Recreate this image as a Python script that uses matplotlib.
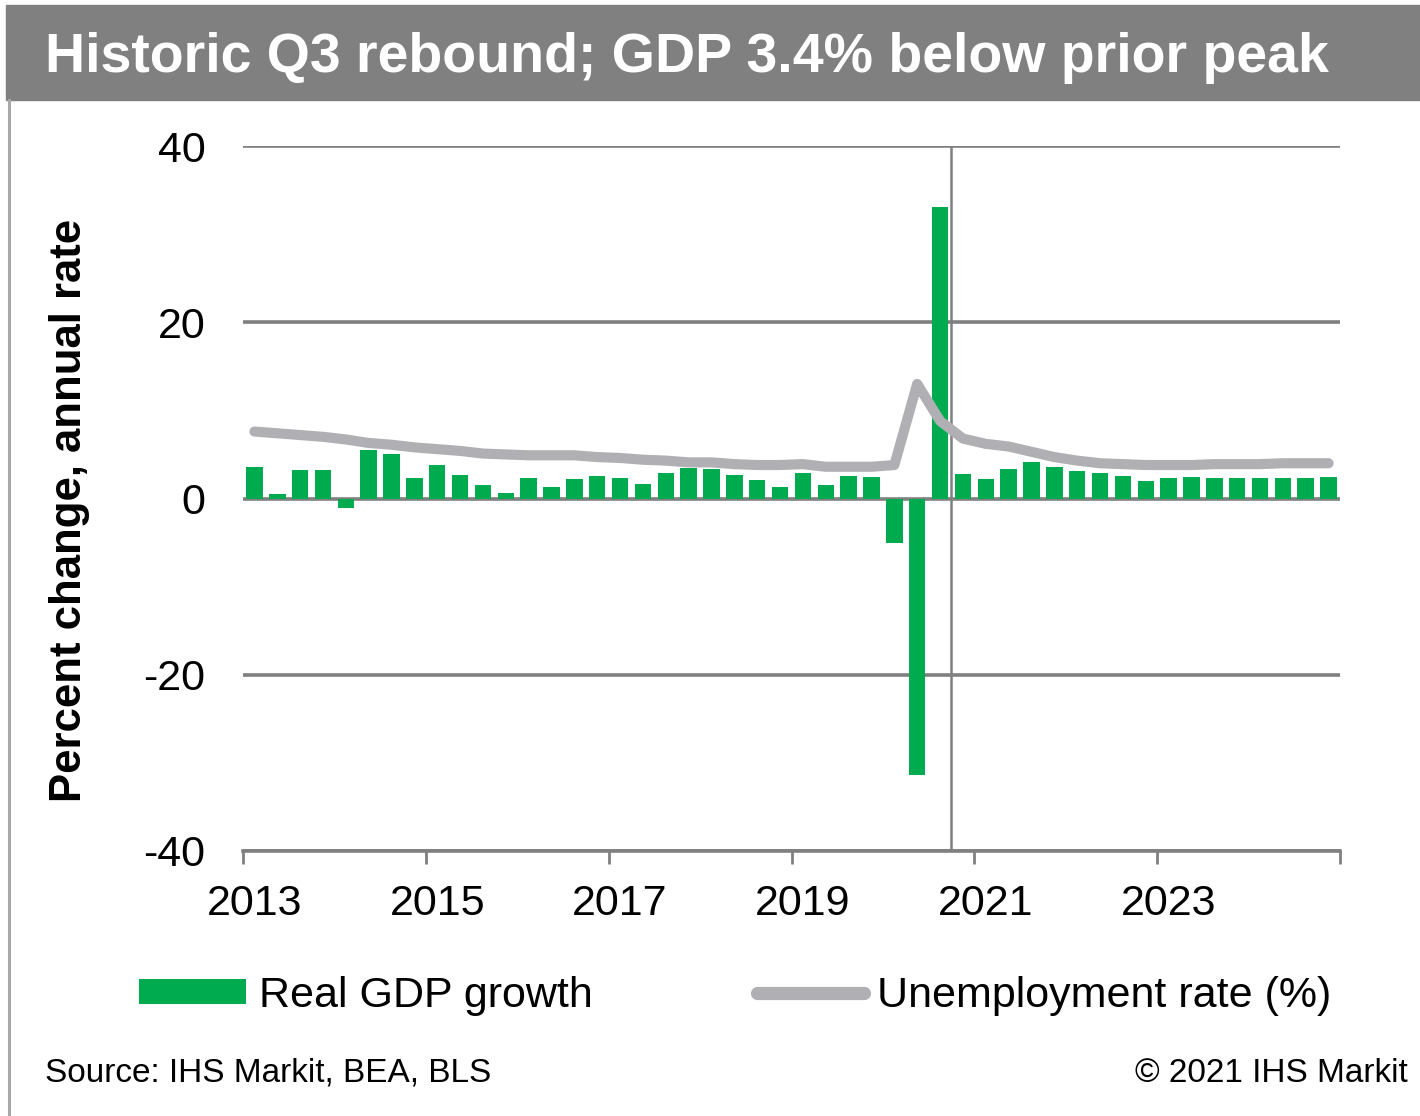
import numpy as np
import matplotlib.pyplot as plt
from matplotlib.patches import Rectangle
from matplotlib.lines import Line2D

plt.rcParams['font.family'] = ['Liberation Sans', 'DejaVu Sans']
plt.rcParams['axes.unicode_minus'] = False

# quarterly series, 2013Q1 .. 2024Q4
years = list(range(2013, 2025))
quarters = ['%dQ%d' % (y, q) for y in years for q in range(1, 5)]

gdp_growth = [3.6, 0.5, 3.2, 3.2,
              -1.1, 5.5, 5.0, 2.3,
              3.8, 2.7, 1.5, 0.6,
              2.3, 1.3, 2.2, 2.5,
              2.3, 1.7, 2.9, 3.5,
              3.3, 2.7, 2.1, 1.3,
              2.9, 1.5, 2.6, 2.4,
              -5.0, -31.4, 33.1, 2.8,
              2.2, 3.3, 4.1, 3.6,
              3.1, 2.9, 2.6, 2.0,
              2.3, 2.4, 2.3, 2.3,
              2.3, 2.3, 2.3, 2.4]

unemployment = [7.6, 7.4, 7.2, 7.0,
                6.7, 6.3, 6.1, 5.8,
                5.6, 5.4, 5.1, 5.0,
                4.9, 4.9, 4.9, 4.7,
                4.6, 4.4, 4.3, 4.1,
                4.1, 3.9, 3.8, 3.8,
                3.9, 3.6, 3.6, 3.6,
                3.8, 13.0, 8.8, 6.8,
                6.2, 5.9, 5.3, 4.7,
                4.3, 4.0, 3.9, 3.8,
                3.8, 3.8, 3.9, 3.9,
                3.9, 4.0, 4.0, 4.0]

last_actual = '2020Q3'
year_labels = ['2013', '2015', '2017', '2019', '2021', '2023']

GREEN = '#00aa4f'
LINE_GRAY = '#b0b0b4'
AXIS_GRAY = '#808080'

W, H = 1420, 1116
fig = plt.figure(figsize=(W / 100, H / 100), dpi=100)

# header band + left border
fig.patches.append(Rectangle((6 / W, 1 - 100 / H), 1 - 6 / W, 95 / H,
                             transform=fig.transFigure, color='#808080', zorder=0))
fig.add_artist(Line2D([9 / W, 9 / W], [0, 1 - 100 / H], transform=fig.transFigure,
                      color='#a8a8a8', lw=2.2))
fig.text(45 / W, 1 - 72 / H, 'Historic Q3 rebound; GDP 3.4% below prior peak',
         color='white', fontsize=40, fontweight='bold', va='baseline')

ax = fig.add_axes([243 / W, 1 - 851 / H, (1340 - 243) / W, (851 - 146) / H])

x = np.arange(len(quarters)) + 0.5
bars = ax.bar(x, gdp_growth, width=0.72, color=GREEN, zorder=3, label='Real GDP growth')
line, = ax.plot(x, unemployment, color=LINE_GRAY, lw=7.3, solid_capstyle='round',
                solid_joinstyle='round', zorder=4, label='Unemployment rate (%)')

# history / forecast divider
ax.axvline(quarters.index(last_actual) + 1, color=AXIS_GRAY, lw=1.8, zorder=2)

ax.set_xlim(0, len(quarters))
ax.set_ylim(-40, 40)
ax.set_yticks([-40, -20, 0, 20, 40])
ax.grid(axis='y', color=AXIS_GRAY, lw=2.6, zorder=1)
ax.set_axisbelow(True)

for s in ['left', 'right', 'top']:
    ax.spines[s].set_visible(False)
ax.spines['bottom'].set_color(AXIS_GRAY)
ax.spines['bottom'].set_linewidth(2.6)

ax.set_xticks(np.arange(0, len(quarters) + 1, 8))
ax.set_xticklabels([])
ax.set_xticks(np.arange(0, len(quarters), 8) + 0.5, minor=True)
ax.set_xticklabels(year_labels, minor=True)
ax.tick_params(axis='x', which='major', length=9.5, width=2, color=AXIS_GRAY)
ax.tick_params(axis='x', which='minor', length=0, pad=24, labelsize=31)
ax.tick_params(axis='y', length=0, pad=27, labelsize=31)

fig.text(70 / W, 1 - 510 / H, 'Percent change, annual rate', rotation=90,
         fontsize=31.5, fontweight='bold', ha='center', va='center')

leg = fig.legend(handles=[bars, line], loc='center', bbox_to_anchor=(735 / W, 1 - 996 / H),
                 ncol=2, frameon=False, fontsize=31, handlelength=2.5, handleheight=0.5,
                 handletextpad=0.3, columnspacing=3.8, borderpad=0, borderaxespad=0)
leg.get_lines()[0].set_linewidth(9.5)

fig.text(45 / W, 1 - 1082 / H, 'Source: IHS Markit, BEA, BLS', fontsize=24, va='baseline')
fig.text(1408 / W, 1 - 1082 / H, '\u00a9 2021 IHS Markit', fontsize=24, va='baseline', ha='right')

fig.savefig('out.png', dpi=100)
